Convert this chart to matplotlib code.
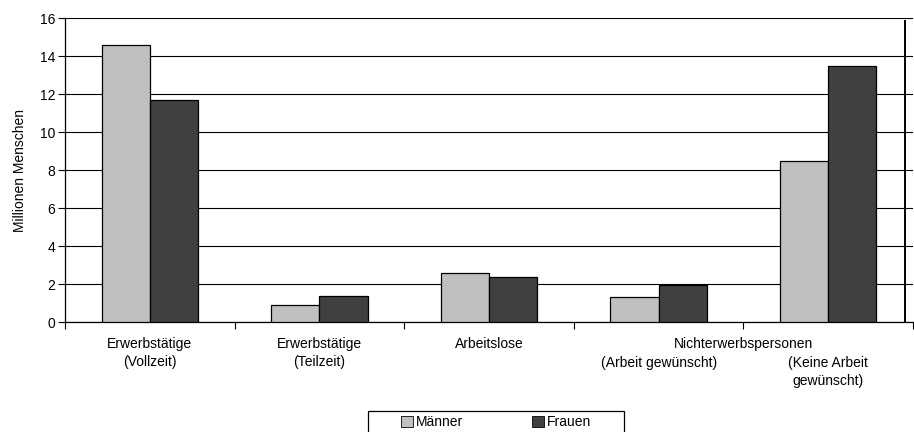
import matplotlib
matplotlib.use('Agg')
from matplotlib import pyplot as plt
from matplotlib.patches import Rectangle
import numpy as np

plt.rcParams['font.family'] = ['Liberation Sans', 'DejaVu Sans']

# data (millions)
categories = ['Erwerbstätige\n(Vollzeit)', 'Erwerbstätige\n(Teilzeit)', 'Arbeitslose',
              '(Arbeit gewünscht)', '(Keine Arbeit\ngewünscht)']
label_row = [0, 0, 0, 1, 1]   # the last two sit under the group label
group_label = 'Nichterwerbspersonen'
maenner = [14.6, 0.9, 2.6, 1.3, 8.5]
frauen = [11.7, 1.35, 2.35, 1.95, 13.45]
series_names = ['Männer', 'Frauen']
yticks = [0, 2, 4, 6, 8, 10, 12, 14, 16]

FS = 10
fig = plt.figure(figsize=(9.14, 4.32), dpi=100)
ax = fig.add_axes([65 / 914, 1 - 322 / 432, 848 / 914, 304 / 432])

x = np.arange(len(categories))
w = 0.284
ax.bar(x - w / 2, maenner, w, color='#c0c0c0', edgecolor='black', linewidth=0.9,
       label=series_names[0], zorder=3)
ax.bar(x + w / 2, frauen, w, color='#404040', edgecolor='black', linewidth=0.9,
       label=series_names[1], zorder=3)

ax.set_xlim(-0.5, len(categories) - 0.5)
ax.set_ylim(0, 16)
ax.set_yticks(yticks)
ax.yaxis.grid(True, color='black', linewidth=0.8, zorder=0)
ax.set_axisbelow(True)
ax.tick_params(axis='y', labelsize=FS, length=5, width=0.8, direction='out', pad=2)

ax.set_xticks(np.arange(-0.5, len(categories), 1.0))
ax.set_xticklabels([])
ax.tick_params(axis='x', length=5, width=0.8, direction='out')

ax.spines['top'].set_visible(False)
ax.spines['right'].set_visible(False)
for s in ['left', 'bottom']:
    ax.spines[s].set_linewidth(0.9)
    ax.spines[s].set_color('black')

# vertical frame line near the right edge
ax.axvline(4.453, ymin=0, ymax=0.99, color='black', linewidth=1.4, zorder=4)

for i, lab in enumerate(categories):
    ax.annotate(lab, xy=(i, 0), xytext=(0, -11 - label_row[i] * 13.7),
                textcoords='offset points', ha='center', va='top',
                fontsize=FS, linespacing=1.3, annotation_clip=False)
ax.annotate(group_label, xy=(3.5, 0), xytext=(0, -11), textcoords='offset points',
            ha='center', va='top', fontsize=FS, annotation_clip=False)

ax.set_ylabel('Millionen Menschen', fontsize=FS, labelpad=9)

leg = fig.legend(loc='upper left', bbox_to_anchor=(401 / 914, 1 - 415 / 432), ncol=2,
                 fontsize=FS, frameon=False,
                 handlelength=0.85, handleheight=0.85, handletextpad=0.2,
                 columnspacing=5.0, borderpad=0, borderaxespad=0)
for h in leg.legend_handles:
    h.set_linewidth(0.6)

# legend frame
fig.patches.append(Rectangle((368 / 914, -0.05), 256 / 914, 0.05 + 21 / 432,
                             transform=fig.transFigure, fill=False,
                             edgecolor='black', linewidth=0.9))

fig.savefig('out.png', dpi=100)
